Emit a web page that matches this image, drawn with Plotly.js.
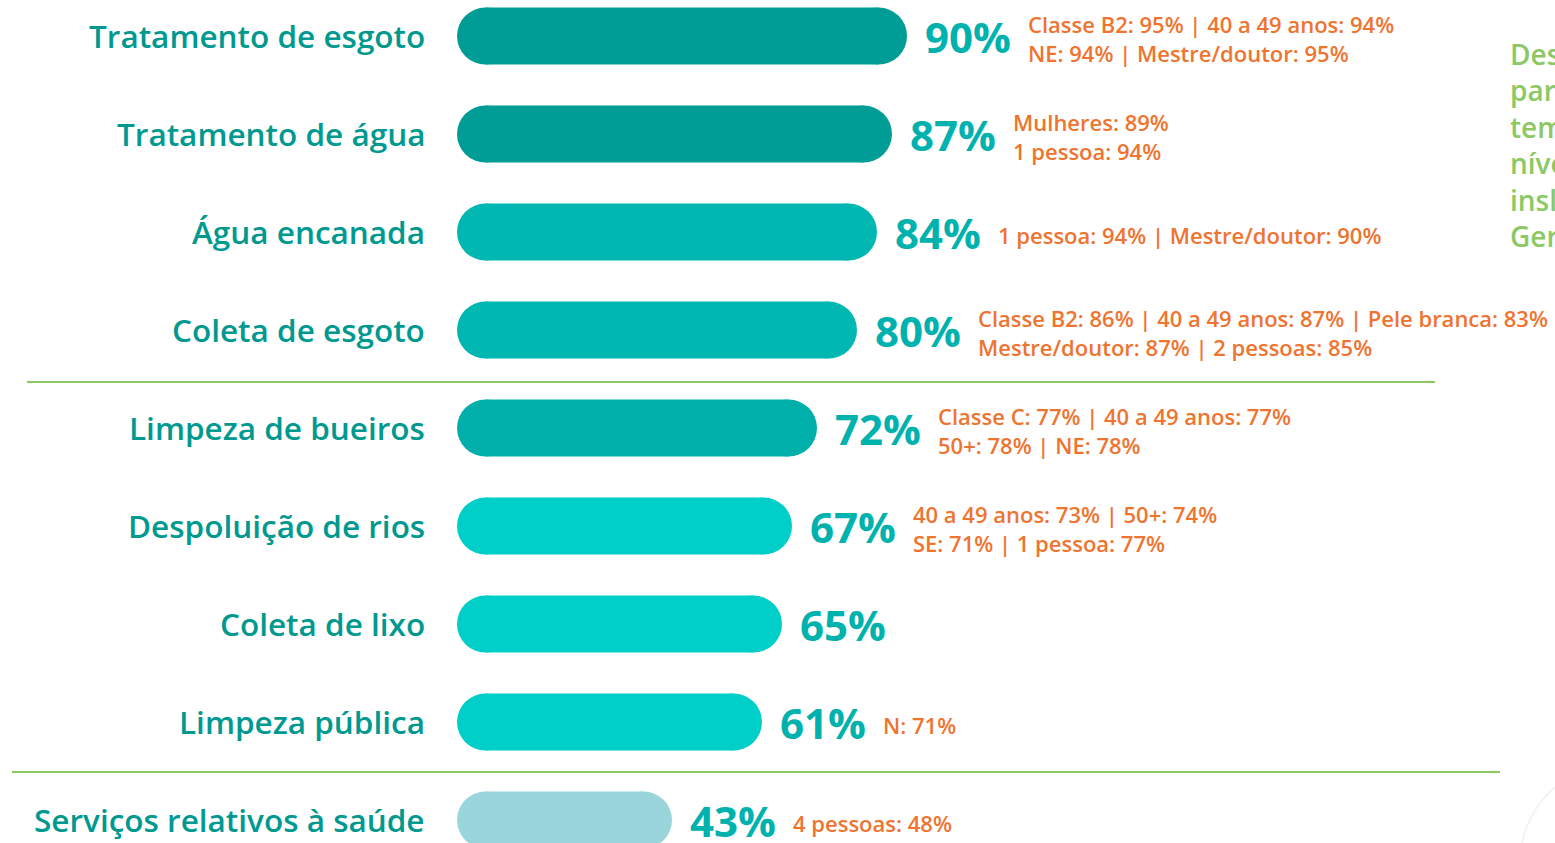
<!DOCTYPE html>
<html>
<head>
<meta charset="utf-8">
<script src="https://cdn.plot.ly/plotly-3.0.1.min.js"></script>
<style>html,body{margin:0;padding:0;background:#fff;overflow:hidden}#chart{width:1555px;height:843px}</style>
</head>
<body>
<div id="chart"></div>
<script>
// ---- data ----
const categories = [
  "Tratamento de esgoto",
  "Tratamento de água",
  "Água encanada",
  "Coleta de esgoto",
  "Limpeza de bueiros",
  "Despoluição de rios",
  "Coleta de lixo",
  "Limpeza pública",
  "Serviços relativos à saúde"
];
const values = [90, 87, 84, 80, 72, 67, 65, 61, 43];
const notesLine1 = [
  "Classe B2: 95% | 40 a 49 anos: 94%",
  "Mulheres: 89%",
  "1 pessoa: 94% | Mestre/doutor: 90%",
  "Classe B2: 86% | 40 a 49 anos: 87% | Pele branca: 83%",
  "Classe C: 77% | 40 a 49 anos: 77%",
  "40 a 49 anos: 73% | 50+: 74%",
  "",
  "N: 71%",
  "4 pessoas: 48%"
];
const notesLine2 = [
  "NE: 94% | Mestre/doutor: 95%",
  "1 pessoa: 94%",
  "",
  "Mestre/doutor: 87% | 2 pessoas: 85%",
  "50+: 78% | NE: 78%",
  "SE: 71% | 1 pessoa: 77%",
  "",
  "",
  ""
];
const sideText = ["Des", "par", "tem", "níve", "insl", "Ger"];

// ---- styles ----
const barColors = ["#009D96", "#009D96", "#00B7B2", "#00B7B2", "#00AFAA", "#00CFC9", "#00CFC9", "#00CFC9", "#9AD5DB"];
const labelColor = "#00998F";
const pctColor = "#00B2AD";
const noteColor = "#EE7430";
const green = "#8CC864";
const FONT = "Open Sans, sans-serif";

const W = 1555, X0 = 457, PXPER = 5.0;
const xRange = [-X0 / PXPER, (W - X0) / PXPER];
const BAR_PX = 57;
const R = (BAR_PX / 2) / PXPER; // cap radius in axis units

const annotations = [];
categories.forEach((c, i) => {
  annotations.push({
    x: 0, y: c, xref: "x", yref: "y", text: c, showarrow: false,
    xanchor: "right", yanchor: "middle", xshift: -30, yshift: 1,
    font: {family: FONT, size: 31.5, color: labelColor, weight: 600}
  });
  annotations.push({
    x: values[i], y: c, xref: "x", yref: "y", text: values[i] + "%", showarrow: false,
    xanchor: "left", yanchor: "middle", xshift: 16, yshift: 0,
    font: {family: FONT, size: 42, color: pctColor, weight: 700}
  });
  const lines = [notesLine1[i], notesLine2[i]].filter(s => s);
  if (lines.length) {
    annotations.push({
      x: values[i], y: c, xref: "x", yref: "y", text: lines.join("<br>"), showarrow: false,
      xanchor: "left", yanchor: "middle", align: "left", xshift: 119, yshift: lines.length > 1 ? -2 : -3,
      font: {family: FONT, size: 22, color: noteColor, weight: 600}
    });
  }
});
annotations.push({
  x: 1508 / W, y: 1 - 145 / 843, xref: "paper", yref: "paper", showarrow: false,
  xanchor: "left", yanchor: "middle", align: "left",
  text: sideText.join("<br>"),
  font: {family: FONT, size: 28, color: green, weight: 600}
});

// straight body of each pill, between the centres of its two round caps
const barTrace = {
  type: "bar", orientation: "h",
  x: values.map(v => v - 2 * R), base: R, y: categories,
  width: 0.58,
  marker: {color: barColors, line: {width: 0}},
  hoverinfo: "y"
};
// left and right round caps
const capLeft = {
  type: "scatter", mode: "markers",
  x: values.map(() => R), y: categories,
  marker: {size: BAR_PX, color: barColors, line: {width: 0}, symbol: "circle"},
  hoverinfo: "skip", cliponaxis: false
};
const capRight = {
  type: "scatter", mode: "markers",
  x: values.map(v => v - R), y: categories,
  marker: {size: BAR_PX, color: barColors, line: {width: 0}, symbol: "circle"},
  hoverinfo: "skip", cliponaxis: false
};

const y0 = 36, step = 98;
const layout = {
  width: 1555, height: 843,
  margin: {l: 0, r: 0, t: 0, b: 0},
  paper_bgcolor: "#ffffff", plot_bgcolor: "#ffffff",
  showlegend: false,
  xaxis: {range: xRange, visible: false, fixedrange: true},
  yaxis: {type: "category", range: [(843 - y0) / step, -y0 / step], visible: false, fixedrange: true},
  annotations: annotations,
  shapes: [
    {type: "line", xref: "paper", yref: "y", x0: 27 / W, x1: 1435 / W, y0: 3.53, y1: 3.53, line: {color: green, width: 2}},
    {type: "line", xref: "paper", yref: "y", x0: 12 / W, x1: 1500 / W, y0: 7.51, y1: 7.51, line: {color: green, width: 2}},
    {type: "circle", xref: "paper", yref: "paper", x0: 1520 / W, x1: 1720 / W, y0: -120 / 843, y1: 80 / 843, line: {color: "#F2F4F4", width: 2}}
  ]
};

Plotly.newPlot("chart", [barTrace, capLeft, capRight], layout, {displayModeBar: false, staticPlot: true});
</script>
</body>
</html>
